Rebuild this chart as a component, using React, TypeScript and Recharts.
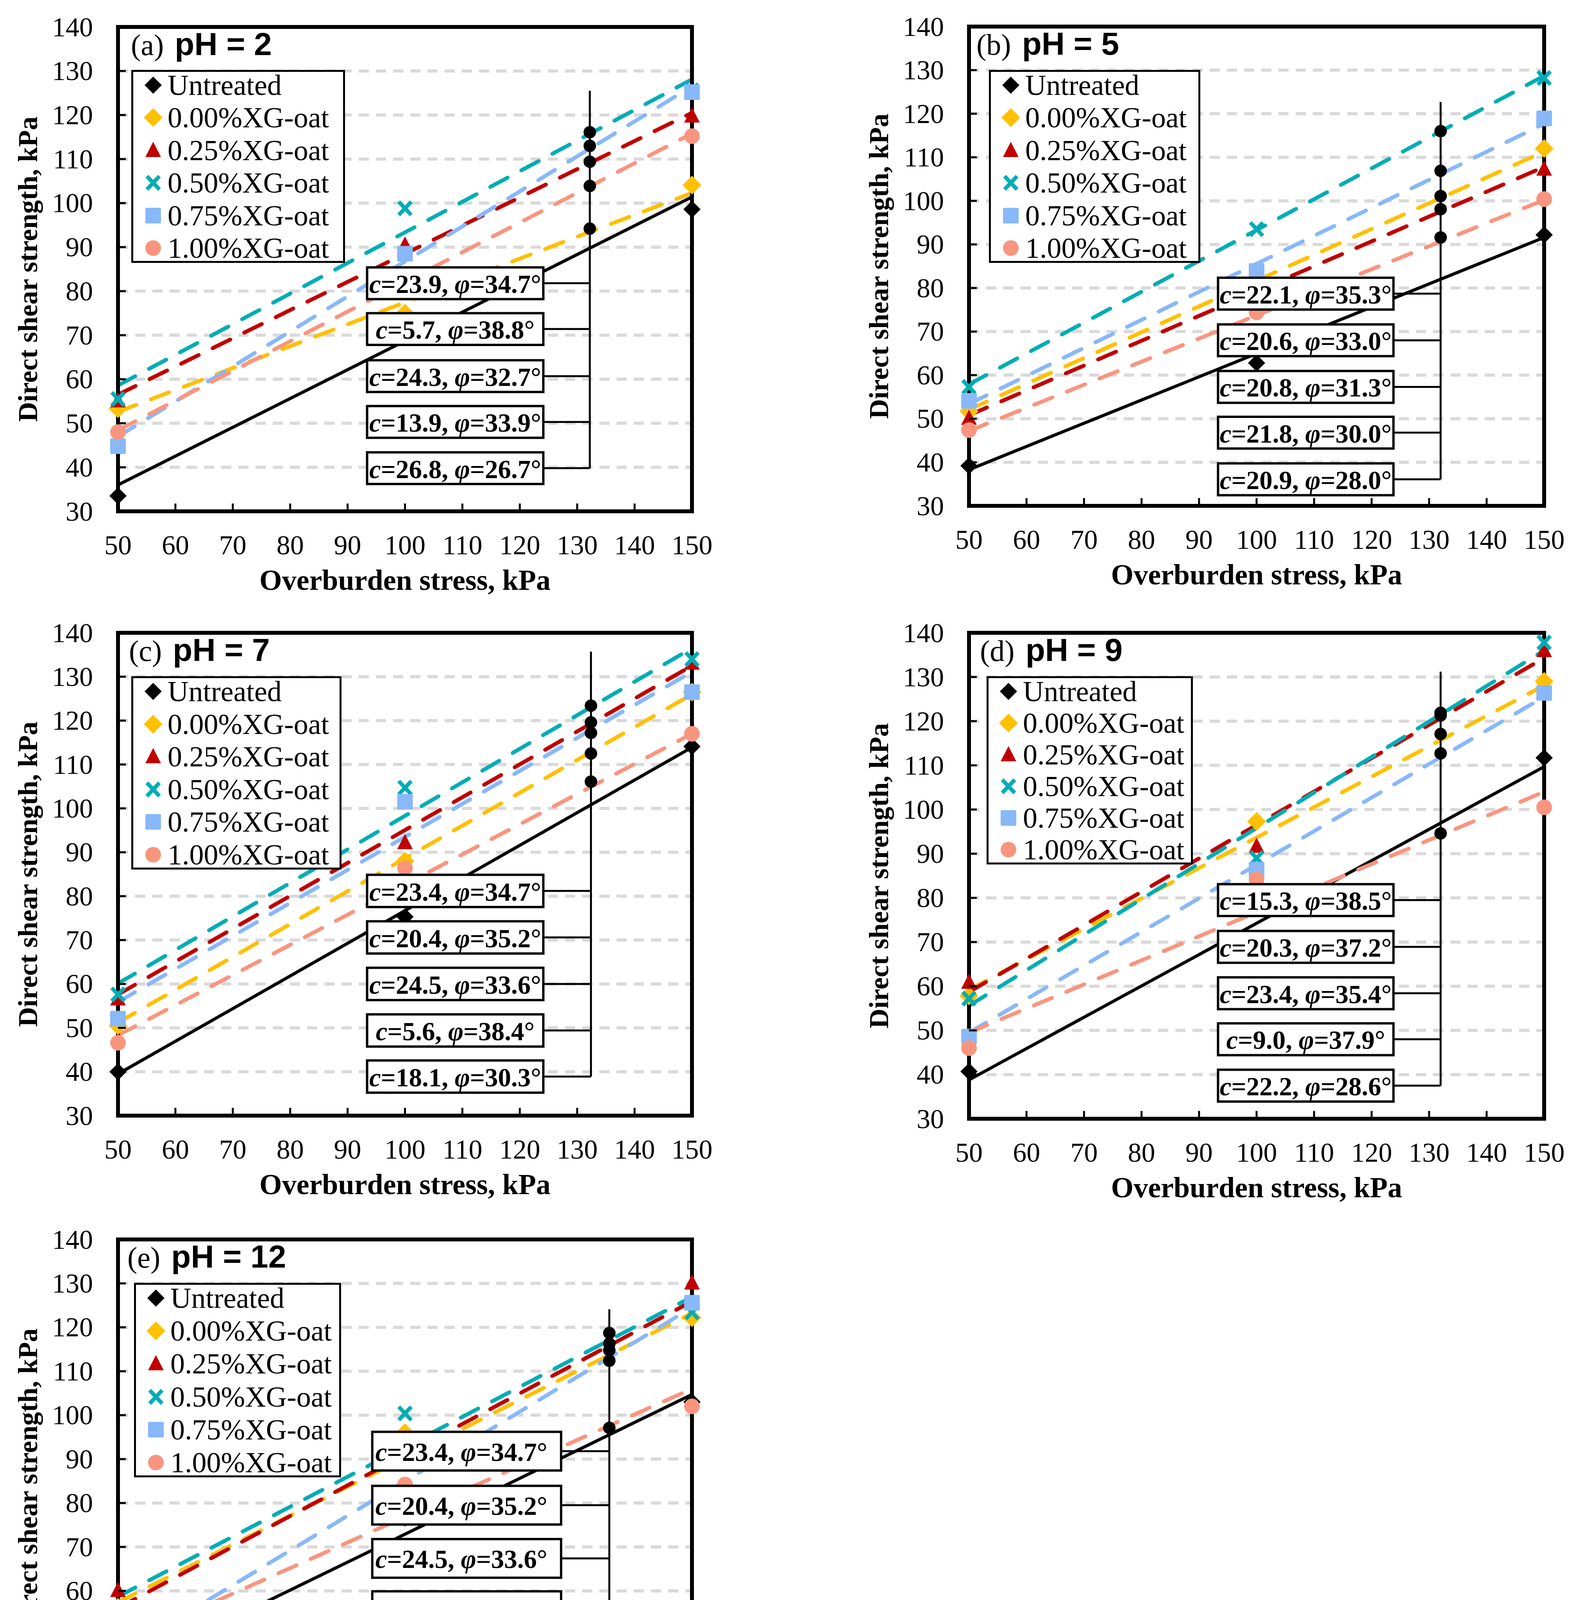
import React from "react";
import {
  ComposedChart,
  Line,
  Scatter,
  XAxis,
  YAxis,
  CartesianGrid,
  ReferenceLine,
  ReferenceArea,
  ReferenceDot,
  Legend,
} from "recharts";

const stress = [50, 100, 150];
const fitStress = [50, 150];
const xTicks = [50, 60, 70, 80, 90, 100, 110, 120, 130, 140, 150];
const yTicks = [30, 40, 50, 60, 70, 80, 90, 100, 110, 120, 130, 140];

const seriesNames = [
  "Untreated",
  "0.00%XG-oat",
  "0.25%XG-oat",
  "0.50%XG-oat",
  "0.75%XG-oat",
  "1.00%XG-oat",
];

// shear strength at 50 / 100 / 150 kPa, one row per series
const strengthA = [
  [33.5, 73.5, 98.6],
  [53.3, 75.0, 104.1],
  [55.1, 90.5, 119.8],
  [55.5, 98.8, 125.6],
  [44.8, 88.5, 125.2],
  [48.0, 83.0, 115.2],
];
const strengthB = [
  [39.2, 62.8, 92.2],
  [51.7, 81.4, 112.0],
  [50.1, 80.5, 107.3],
  [57.3, 93.5, 128.2],
  [54.1, 83.9, 118.9],
  [47.4, 74.4, 100.4],
];
const strengthC = [
  [40.0, 75.3, 114.1],
  [50.5, 88.0, 126.5],
  [56.6, 92.2, 133.1],
  [57.6, 104.7, 134.0],
  [52.1, 101.5, 126.5],
  [46.6, 86.4, 117.0],
];
const strengthD = [
  [40.7, 70.3, 111.7],
  [57.8, 97.3, 129.0],
  [60.9, 91.7, 136.0],
  [57.2, 89.0, 137.8],
  [48.6, 86.4, 126.4],
  [46.0, 84.2, 100.5],
];
const strengthE = [
  [39.1, 76.6, 103.0],
  [56.3, 96.0, 122.2],
  [60.1, 82.8, 130.1],
  [54.1, 100.4, 123.4],
  [46.4, 83.0, 125.6],
  [43.7, 84.2, 102.0],
];

// trend line value at 50 and 150 kPa
const fitA = [
  [36.0, 101.4],
  [52.6, 102.3],
  [56.5, 120.5],
  [58.6, 128.1],
  [47.0, 126.5],
  [48.4, 115.8],
];
const fitB = [
  [38.3, 91.6],
  [52.1, 111.3],
  [50.8, 107.8],
  [57.9, 128.7],
  [53.4, 117.7],
  [47.2, 100.2],
];
const fitC = [
  [39.5, 113.9],
  [51.2, 126.0],
  [57.6, 132.5],
  [60.1, 136.5],
  [55.9, 131.1],
  [48.3, 117.0],
];
const fitD = [
  [38.8, 109.7],
  [59.2, 128.1],
  [58.7, 134.3],
  [55.6, 136.0],
  [49.5, 125.5],
  [49.5, 104.0],
];
const fitE = [
  [41.1, 104.7],
  [57.4, 123.2],
  [56.1, 125.9],
  [58.7, 126.9],
  [45.5, 124.5],
  [47.7, 106.0],
];

// where the treated trend lines cross the marker line
const marksA = [116.1, 113.0, 109.4, 103.9, 94.2];
const marksB = [116.0, 106.9, 101.1, 98.1, 91.6];
const marksC = [123.4, 119.6, 117.2, 112.5, 106.1];
const marksD = [121.9, 121.3, 117.1, 112.7, 94.6];
const marksE = [118.7, 116.3, 114.8, 112.4, 97.1];

// c (kPa) and phi (deg) shown in the boxes, top to bottom
const paramsA = [["23.9", "34.7"], ["5.7", "38.8"], ["24.3", "32.7"], ["13.9", "33.9"], ["26.8", "26.7"]];
const paramsB = [["22.1", "35.3"], ["20.6", "33.0"], ["20.8", "31.3"], ["21.8", "30.0"], ["20.9", "28.0"]];
const paramsC = [["23.4", "34.7"], ["20.4", "35.2"], ["24.5", "33.6"], ["5.6", "38.4"], ["18.1", "30.3"]];
const paramsD = [["15.3", "38.5"], ["20.3", "37.2"], ["23.4", "35.4"], ["9.0", "37.9"], ["22.2", "28.6"]];
const paramsE = [["23.4", "34.7"], ["20.4", "35.2"], ["24.5", "33.6"], ["5.6", "38.4"], ["18.1", "30.3"]];

const colors = ["#000000", "#FFC000", "#C00000", "#00ADB5", "#88B8F8", "#F9957F"];
const shapes = ["diamond", "diamond", "triangle", "cross", "square", "circle"];

const SERIF = '"Liberation Serif", "Times New Roman", serif';
const SANS = '"Liberation Sans", Arial, sans-serif';

const AXIS_W = 300;
const TOP_M = 60;
const RIGHT_M = 60;
const BOTTOM_H = 225;

type PanelSpec = {
  tag: string;
  ph: string;
  tagDx: number;
  plot: number[]; // left, top, right, bottom in page px
  legend: number[]; // dx, dy, w, h from plot corner
  strength: number[][];
  fit: number[][];
  marks: number[];
  markX: number;
  markTop: number;
  boxX: number[];
  boxMid: number[];
  boxH: number;
  boxLeftText?: boolean;
  params: string[][];
};

const panels: PanelSpec[] = [
  {
    tag: "(a)", ph: "pH = 2", tagDx: 33,
    plot: [302, 69, 1771, 1309], legend: [34, 110, 547, 494],
    strength: strengthA, fit: fitA, marks: marksA,
    markX: 132.2, markTop: 125.5, boxX: [93.4, 124.1],
    boxMid: [81.8, 71.4, 60.7, 50.3, 39.8], boxH: 7.2, params: paramsA,
  },
  {
    tag: "(b)", ph: "pH = 5", tagDx: 19,
    plot: [2480, 68, 3952, 1295], legend: [51, 111, 541, 494],
    strength: strengthB, fit: fitB, marks: marksB,
    markX: 132.0, markTop: 122.7, boxX: [93.3, 123.8],
    boxMid: [78.7, 68.0, 57.3, 46.8, 36.1], boxH: 7.3, params: paramsB,
  },
  {
    tag: "(c)", ph: "pH = 7", tagDx: 28,
    plot: [302, 1620, 1771, 2856], legend: [34, 111, 538, 495],
    strength: strengthC, fit: fitC, marks: marksC,
    markX: 132.4, markTop: 135.7, boxX: [93.4, 124.1],
    boxMid: [81.2, 70.6, 60.0, 49.4, 38.9], boxH: 7.35, params: paramsC,
  },
  {
    tag: "(d)", ph: "pH = 9", tagDx: 28,
    plot: [2480, 1620, 3952, 2864], legend: [45, 111, 528, 482],
    strength: strengthD, fit: fitD, marks: marksD,
    markX: 132.0, markTop: 131.2, boxX: [93.3, 123.8],
    boxMid: [79.5, 68.9, 58.4, 48.0, 37.5], boxH: 7.2, params: paramsD,
  },
  {
    tag: "(e)", ph: "pH = 12", tagDx: 24,
    plot: [302, 3173, 1771, 4410], legend: [41, 111, 530, 498],
    strength: strengthE, fit: fitE, marks: marksE,
    markX: 135.6, markTop: 124.1, boxX: [94.3, 127.2],
    boxMid: [91.8, 79.5, 67.4, 55.5, 41.7], boxH: 8.8, boxLeftText: true, params: paramsE,
  },
];

function Marker({ cx, cy, kind, color }: any) {
  if (cx == null || cy == null) return null;
  if (kind === "diamond") {
    const h = color === "#000000" ? 22 : 24;
    return <path d={`M${cx},${cy - h}L${cx + h},${cy}L${cx},${cy + h}L${cx - h},${cy}Z`} fill={color} />;
  }
  if (kind === "triangle") {
    return <path d={`M${cx},${cy - 22}L${cx + 20},${cy + 17}L${cx - 20},${cy + 17}Z`} fill={color} />;
  }
  if (kind === "cross") {
    return (
      <g stroke={color} strokeWidth={10}>
        <line x1={cx - 16} y1={cy - 17} x2={cx + 16} y2={cy + 17} />
        <line x1={cx - 16} y1={cy + 17} x2={cx + 16} y2={cy - 17} />
      </g>
    );
  }
  if (kind === "square") {
    return <rect x={cx - 20} y={cy - 20} width={40} height={40} rx={3} fill={color} />;
  }
  return <circle cx={cx} cy={cy} r={20} fill={color} />;
}

const XTick = (p: any) => (
  <g>
    <line x1={p.x} x2={p.x} y1={p.y} y2={p.y - 20} stroke="#000" strokeWidth={5} />
    <text x={p.x} y={p.y + 86} textAnchor="middle" dominantBaseline="central"
      fontFamily={SERIF} fontSize={70} fill="#000">
      {p.payload.value}
    </text>
  </g>
);

const YTick = (p: any) => (
  <g>
    <line x1={p.x} x2={p.x + 20} y1={p.y} y2={p.y} stroke="#000" strokeWidth={5} />
    <text x={p.x - 64} y={p.y} textAnchor="end" dominantBaseline="central"
      fontFamily={SERIF} fontSize={70} fill="#000">
      {p.payload.value}
    </text>
  </g>
);

const xTitle = (p: any) => {
  const vb = p.viewBox;
  return (
    <text x={vb.x + vb.width / 2} y={vb.y + 176} textAnchor="middle" dominantBaseline="central"
      fontFamily={SERIF} fontWeight="bold" fontSize={74} fill="#000">
      Overburden stress, kPa
    </text>
  );
};

const yTitle = (p: any) => {
  const vb = p.viewBox;
  const cx = vb.x + vb.width - 231;
  const cy = vb.y + vb.height / 2;
  return (
    <text x={cx} y={cy} transform={`rotate(-90 ${cx} ${cy})`} textAnchor="middle"
      dominantBaseline="central" fontFamily={SERIF} fontWeight="bold" fontSize={70} fill="#000">
      Direct shear strength, kPa
    </text>
  );
};

const boxLabel = (c: string, phi: string, leftText?: boolean) => (p: any) => {
  const vb = p.viewBox;
  const x = leftText ? vb.x + 8 : vb.x + vb.width / 2;
  return (
    <text x={x} y={vb.y + vb.height / 2 + 2} textAnchor={leftText ? "start" : "middle"}
      dominantBaseline="central" fontFamily={SERIF} fontWeight="bold" fontSize={67} fill="#000">
      <tspan fontStyle="italic">c</tspan>
      {`=${c}, `}
      <tspan fontStyle="italic">φ</tspan>
      {`=${phi}°`}
    </text>
  );
};

function LegendBox({ w, h }: { w: number; h: number }) {
  const pitch = (h - 77) / 5;
  return (
    <div style={{
      position: "relative", width: w, height: h, boxSizing: "border-box",
      border: "5px solid #000", background: "#fff",
    }}>
      {seriesNames.map((name, i) => (
        <div key={name} style={{
          position: "absolute", left: 0, top: 39 + i * pitch - 5 - 40, height: 80,
          display: "flex", alignItems: "center",
        }}>
          <svg width={50} height={50} style={{ marginLeft: 26, flex: "none" }}>
            <Marker cx={25} cy={25} kind={shapes[i]} color={colors[i]} />
          </svg>
          <span style={{
            fontFamily: SERIF, fontSize: 74, lineHeight: 1, marginLeft: 12,
            color: "#000", whiteSpace: "nowrap",
          }}>
            {name}
          </span>
        </div>
      ))}
    </div>
  );
}

function Panel({ spec }: { spec: PanelSpec }) {
  const [pl, pt, pr, pb] = spec.plot;
  const chartLeft = pl - AXIS_W;
  const chartTop = pt - TOP_M;
  const width = pr - pl + AXIS_W + RIGHT_M;
  const height = pb - pt + TOP_M + BOTTOM_H;
  const [ldx, ldy, lw, lh] = spec.legend;
  const halfH = spec.boxH / 2;

  return (
    <div style={{ position: "absolute", left: chartLeft, top: chartTop, width, height }}>
      <ComposedChart width={width} height={height}
        margin={{ top: TOP_M, right: RIGHT_M, bottom: 0, left: 0 }}>
        <CartesianGrid vertical={false} stroke="#D9D9D9" strokeWidth={8} strokeDasharray="26 18" />
        <XAxis type="number" dataKey="x" domain={[50, 150]} ticks={xTicks} interval={0}
          height={BOTTOM_H} tickSize={0} tickMargin={0} tickLine={false}
          axisLine={{ stroke: "#000", strokeWidth: 10, strokeLinecap: "square" }}
          tick={(p: any) => <XTick {...p} />} label={xTitle} />
        <YAxis type="number" domain={[30, 140]} ticks={yTicks} interval={0}
          width={AXIS_W} tickSize={0} tickMargin={0} tickLine={false}
          axisLine={{ stroke: "#000", strokeWidth: 10, strokeLinecap: "square" }}
          tick={(p: any) => <YTick {...p} />} label={yTitle} />

        <ReferenceLine y={140} zIndex={450} stroke="#000" strokeWidth={10} strokeLinecap="square" />
        <ReferenceLine x={150} zIndex={450} stroke="#000" strokeWidth={10} strokeLinecap="square" />

        {spec.fit.map((f, i) => (
          <Line key={`fit-${i}`} type="linear" dataKey="y"
            data={fitStress.map((x, j) => ({ x, y: f[j] }))}
            stroke={colors[i]} strokeWidth={i === 0 ? 8 : 10}
            strokeDasharray={i === 0 ? undefined : "50 40"} strokeLinecap="round"
            dot={false} activeDot={false} legendType="none" isAnimationActive={false} />
        ))}
        {spec.strength.map((s, i) => (
          <Scatter key={`pts-${i}`} dataKey="y" name={seriesNames[i]} zIndex={650}
            data={stress.map((x, j) => ({ x, y: s[j] }))}
            shape={(p: any) => <Marker cx={p.cx} cy={p.cy} kind={shapes[i]} color={colors[i]} />}
            isAnimationActive={false} />
        ))}

        <ReferenceLine zIndex={700}
          segment={[{ x: spec.markX, y: spec.markTop }, { x: spec.markX, y: spec.boxMid[4] }]}
          stroke="#000" strokeWidth={5} />
        {spec.boxMid.map((m, i) => (
          <ReferenceLine key={`conn-${i}`} zIndex={700}
            segment={[{ x: spec.boxX[1], y: m }, { x: spec.markX, y: m }]}
            stroke="#000" strokeWidth={5} />
        ))}
        {spec.marks.map((v, i) => (
          <ReferenceDot key={`mark-${i}`} zIndex={700} x={spec.markX} y={v} r={16}
            fill="#000" stroke="none" />
        ))}
        {spec.boxMid.map((m, i) => (
          <ReferenceArea key={`box-${i}`} zIndex={750}
            x1={spec.boxX[0]} x2={spec.boxX[1]} y1={m - halfH} y2={m + halfH}
            fill="#fff" fillOpacity={1} stroke="#000" strokeWidth={6}
            label={boxLabel(spec.params[i][0], spec.params[i][1], spec.boxLeftText)} />
        ))}

        <Legend layout="vertical" align="center" verticalAlign="middle"
          wrapperStyle={{ left: AXIS_W + ldx, top: TOP_M + ldy, width: lw, height: lh }}
          content={() => <LegendBox w={lw} h={lh} />} />
      </ComposedChart>
      <svg width={900} height={140}
        style={{ position: "absolute", left: AXIS_W, top: TOP_M, overflow: "visible" }}>
        <text x={spec.tagDx} y={72} fill="#000">
          <tspan fontFamily={SERIF} fontSize={76}>{spec.tag}</tspan>
          <tspan dx={28} fontFamily={SANS} fontWeight="bold" fontSize={82}>{spec.ph}</tspan>
        </text>
      </svg>
    </div>
  );
}

export default function App() {
  return (
    <div style={{
      position: "relative", margin: -8, width: 4054, height: 4643,
      background: "#fff", overflow: "hidden",
    }}>
      {panels.map((p) => (
        <Panel key={p.tag} spec={p} />
      ))}
    </div>
  );
}
